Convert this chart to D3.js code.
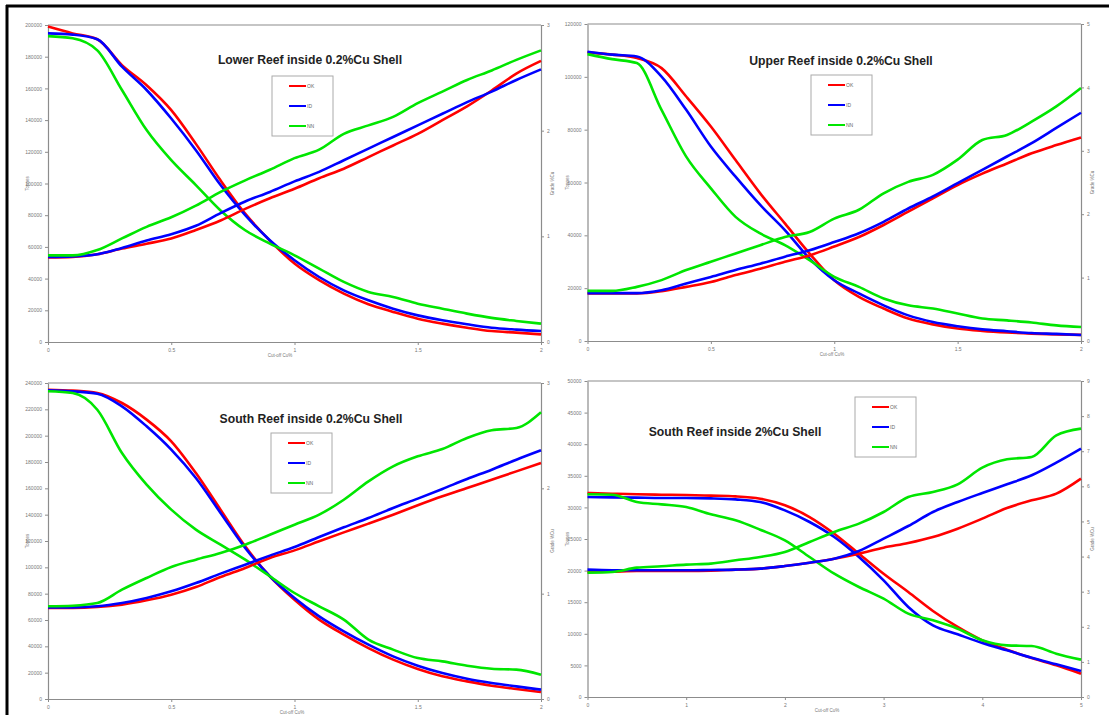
<!DOCTYPE html>
<html><head><meta charset="utf-8">
<script src="https://cdn.jsdelivr.net/npm/d3@7/dist/d3.min.js"></script>
<style>body{margin:0;background:#fff}svg{display:block}</style></head>
<body><svg id="chart" width="1109" height="715"></svg>
<script>
// ---------- DATA ----------
const seriesNames = ["OK", "ID", "NN"];
const seriesColors = ["#ff0000", "#0000ff", "#00e600"];

const cutoff02 = [0,0.1,0.2,0.3,0.4,0.5,0.6,0.7,0.8,0.9,1.0,1.1,1.2,1.3,1.4,1.5,1.6,1.7,1.8,1.9,2.0];
const cutoff2 = [0,0.25,0.5,0.75,1.0,1.25,1.5,1.75,2.0,2.25,2.5,2.75,3.0,3.25,3.5,3.75,4.0,4.25,4.5,4.75,5.0];

// Lower Reef inside 0.2%Cu Shell
const lowerTonnesOK = [199000,194700,191000,174700,162000,146300,125000,102000,81000,64000,49500,39000,30500,23800,19000,14700,11600,9000,6900,5900,4800];
const lowerTonnesID = [194700,193900,191000,173700,159000,141000,121000,99000,80000,64200,51600,41000,32600,26300,21000,16800,13700,11200,9000,7800,6900];
const lowerTonnesNN = [193000,191600,184000,159000,133700,114700,99000,83000,70500,62100,54700,46300,37900,31600,28400,24200,21000,17900,15200,13300,11600];
const lowerGradeOK = [0.80,0.805,0.83,0.884,0.93,0.98,1.06,1.15,1.26,1.36,1.45,1.55,1.64,1.75,1.86,1.97,2.10,2.23,2.38,2.54,2.66];
const lowerGradeID = [0.805,0.81,0.83,0.89,0.96,1.02,1.10,1.22,1.33,1.42,1.52,1.61,1.72,1.83,1.94,2.05,2.16,2.27,2.37,2.48,2.58];
const lowerGradeNN = [0.82,0.82,0.87,0.98,1.09,1.18,1.29,1.42,1.53,1.63,1.74,1.82,1.97,2.05,2.13,2.26,2.37,2.48,2.57,2.67,2.76];

// Upper Reef inside 0.2%Cu Shell
const upperTonnesOK = [109250,108400,107100,103300,92560,81200,68500,55900,44500,33100,23000,16700,12300,8500,6300,4700,3800,3200,2800,2500,2300];
const upperTonnesID = [109500,108400,107700,100100,87500,73600,62200,51500,42000,31200,23000,18000,13500,9700,7200,5600,4400,3700,3000,2700,2300];
const upperTonnesNN = [108600,106700,105200,87500,69800,57800,47000,40700,36300,30600,24300,20500,16100,13500,12300,10400,8500,7800,7000,5900,5300];
const upperGradeOK = [0.75,0.75,0.75,0.785,0.854,0.93,1.04,1.14,1.25,1.35,1.49,1.64,1.83,2.04,2.25,2.46,2.64,2.80,2.96,3.09,3.21];
const upperGradeID = [0.755,0.755,0.755,0.80,0.906,1.01,1.12,1.22,1.33,1.43,1.56,1.70,1.88,2.09,2.28,2.49,2.70,2.91,3.12,3.36,3.60];
const upperGradeNN = [0.79,0.79,0.854,0.96,1.12,1.25,1.38,1.51,1.64,1.72,1.93,2.07,2.33,2.51,2.62,2.86,3.17,3.25,3.46,3.70,3.99];

// South Reef inside 0.2%Cu Shell
const southTonnesOK = [234900,234200,232400,224800,212200,195700,171600,143800,116000,93200,75400,60300,48900,38700,29900,22800,17200,13400,10100,7600,5300];
const southTonnesID = [234400,233700,231900,222300,207100,189400,167800,141300,114700,93200,76700,62800,51400,41300,32400,25300,19700,15400,12200,9600,7100];
const southTonnesNN = [233700,232400,219700,186800,162800,143800,128600,117200,105800,93200,80500,70400,60300,45100,37500,31100,28600,25300,23000,22300,18500];
const southGradeOK = [0.864,0.864,0.873,0.896,0.937,0.99,1.063,1.158,1.244,1.339,1.411,1.497,1.582,1.665,1.75,1.839,1.924,2.003,2.082,2.161,2.241];
const southGradeID = [0.870,0.870,0.880,0.911,0.959,1.022,1.101,1.19,1.275,1.361,1.443,1.538,1.63,1.718,1.813,1.902,1.994,2.089,2.177,2.272,2.361];
const southGradeNN = [0.880,0.886,0.911,1.038,1.149,1.253,1.323,1.386,1.465,1.56,1.655,1.75,1.892,2.066,2.209,2.304,2.373,2.478,2.551,2.573,2.722];

// South Reef inside 2%Cu Shell
const south2TonnesOK = [32280,32170,32070,32010,31960,31860,31750,31380,30330,28480,25840,22680,19510,16610,13610,11080,8970,7490,6170,5010,3690];
const south2TonnesID = [31640,31590,31540,31490,31490,31430,31270,30850,29530,27690,25310,22150,18460,14240,11340,9920,8540,7380,6220,5170,4110];
const south2TonnesNN = [32070,32010,30850,30480,30060,28900,27950,26470,24790,22150,19510,17400,15560,13190,12130,10810,8970,8170,8070,6860,5910];
const south2GradeOK = [3.560,3.570,3.589,3.589,3.589,3.598,3.627,3.655,3.731,3.826,3.940,4.082,4.253,4.386,4.557,4.794,5.079,5.383,5.601,5.791,6.219];
const south2GradeID = [3.627,3.608,3.608,3.608,3.608,3.617,3.627,3.655,3.731,3.826,3.940,4.158,4.510,4.870,5.269,5.554,5.810,6.057,6.314,6.674,7.073];
const south2GradeNN = [3.541,3.560,3.684,3.722,3.769,3.798,3.893,3.988,4.130,4.415,4.700,4.937,5.269,5.696,5.839,6.057,6.532,6.769,6.836,7.45,7.643];

// Axis tick labels
const ticksX02 = [0, 0.5, 1, 1.5, 2];
const ticksX2 = [0, 1, 2, 3, 4, 5];
const ticksLower = [0,20000,40000,60000,80000,100000,120000,140000,160000,180000,200000];
const ticksUpper = [0,20000,40000,60000,80000,100000,120000];
const ticksSouth = [0,20000,40000,60000,80000,100000,120000,140000,160000,180000,200000,220000,240000];
const ticksSouth2 = [0,5000,10000,15000,20000,25000,30000,35000,40000,45000,50000];
const ticksGrade3 = [0,1,2,3];
const ticksGrade5 = [0,1,2,3,4,5];
const ticksGrade9 = [0,1,2,3,4,5,6,7,8,9];

const titles = ["Lower Reef inside 0.2%Cu Shell","Upper Reef inside 0.2%Cu Shell","South Reef inside 0.2%Cu Shell","South Reef inside 2%Cu Shell"];
const xTitle = "Cut-off Cu%";
const yTitle = "Tonnes";
const y2Title = "Grade %Cu";

// ---------- PANELS ----------
const panels = [
  {title: titles[0], x: cutoff02, xt: ticksX02, yt: ticksLower, y2t: ticksGrade3,
   tonnes: [lowerTonnesOK, lowerTonnesID, lowerTonnesNN], grade: [lowerGradeOK, lowerGradeID, lowerGradeNN],
   box: [48, 25, 541, 342], titlePos: [310, 64], legend: [272, 76], xTitleX: 280},
  {title: titles[1], x: cutoff02, xt: ticksX02, yt: ticksUpper, y2t: ticksGrade5,
   tonnes: [upperTonnesOK, upperTonnesID, upperTonnesNN], grade: [upperGradeOK, upperGradeID, upperGradeNN],
   box: [587.5, 24, 1081, 341], titlePos: [841, 65], legend: [811, 75], xTitleX: 832},
  {title: titles[2], x: cutoff02, xt: ticksX02, yt: ticksSouth, y2t: ticksGrade3,
   tonnes: [southTonnesOK, southTonnesID, southTonnesNN], grade: [southGradeOK, southGradeID, southGradeNN],
   box: [48, 383, 541, 699], titlePos: [311, 423], legend: [271, 433], xTitleX: 292},
  {title: titles[3], x: cutoff2, xt: ticksX2, yt: ticksSouth2, y2t: ticksGrade9,
   tonnes: [south2TonnesOK, south2TonnesID, south2TonnesNN], grade: [south2GradeOK, south2GradeID, south2GradeNN],
   box: [587.5, 381, 1081, 697], titlePos: [735, 436], legend: [855, 397], xTitleX: 827}
];

const svg = d3.select("#chart");
svg.append("rect").attr("width",1109).attr("height",715).attr("fill","#fff");

const axisCol = "#8c8c8c", lblCol = "#777", font = "Liberation Sans, Arial, sans-serif";

panels.forEach(p => {
  const [x0, y0, x1, y1] = p.box;
  const x = d3.scaleLinear().domain(d3.extent(p.xt)).range([x0, x1]);
  const y = d3.scaleLinear().domain(d3.extent(p.yt)).range([y1, y0]);
  const y2 = d3.scaleLinear().domain(d3.extent(p.y2t)).range([y1, y0]);
  const g = svg.append("g");

  const styleAxis = (sel) => {
    sel.selectAll("path.domain").attr("stroke", axisCol).attr("stroke-width", 1.2);
    sel.selectAll(".tick line").attr("stroke", axisCol);
    sel.selectAll(".tick text").attr("fill", lblCol).attr("font-size", 5).attr("font-family", font);
  };
  g.append("g").attr("transform", `translate(0,${y1})`)
    .call(d3.axisBottom(x).tickValues(p.xt).tickSize(3).tickSizeOuter(0).tickFormat(d3.format("")))
    .call(styleAxis);
  g.append("g").attr("transform", `translate(${x0},0)`)
    .call(d3.axisLeft(y).tickValues(p.yt).tickSize(3).tickSizeOuter(0).tickFormat(d3.format("d")))
    .call(styleAxis);
  g.append("g").attr("transform", `translate(${x1},0)`)
    .call(d3.axisRight(y2).tickValues(p.y2t).tickSize(3).tickSizeOuter(0).tickFormat(d3.format("d")))
    .call(styleAxis);
  g.append("line").attr("x1", x0).attr("x2", x1).attr("y1", y0).attr("y2", y0)
    .attr("stroke", axisCol).attr("stroke-width", 1.2);

  // axis titles
  g.append("text").attr("x", p.xTitleX).attr("y", y1 + 15).attr("text-anchor", "middle")
    .attr("font-size", 4.5).attr("fill", lblCol).attr("font-family", font).text(xTitle);
  g.append("text").attr("transform", `translate(${x0 - 19},${(y0 + y1) / 2}) rotate(-90)`)
    .attr("text-anchor", "middle").attr("font-size", 4.5).attr("fill", lblCol).attr("font-family", font).text(yTitle);
  g.append("text").attr("transform", `translate(${x1 + 13},${(y0 + y1) / 2}) rotate(-90)`)
    .attr("text-anchor", "middle").attr("font-size", 4.5).attr("fill", lblCol).attr("font-family", font).text(y2Title);

  // lines
  const lineT = d3.line().x((d, i) => x(p.x[i])).y(d => y(d)).curve(d3.curveMonotoneX);
  const lineG = d3.line().x((d, i) => x(p.x[i])).y(d => y2(d)).curve(d3.curveMonotoneX);
  p.tonnes.forEach((s, i) => g.append("path").attr("d", lineT(s)).attr("fill", "none")
    .attr("stroke", seriesColors[i]).attr("stroke-width", 2.6).attr("stroke-linejoin", "round"));
  p.grade.forEach((s, i) => g.append("path").attr("d", lineG(s)).attr("fill", "none")
    .attr("stroke", seriesColors[i]).attr("stroke-width", 2.6).attr("stroke-linejoin", "round"));

  // title
  g.append("text").attr("x", p.titlePos[0]).attr("y", p.titlePos[1]).attr("text-anchor", "middle")
    .attr("font-size", 12.2).attr("font-weight", "bold").attr("fill", "#222").attr("font-family", font).text(p.title);

  // legend
  const [lx, ly] = p.legend;
  g.append("rect").attr("x", lx).attr("y", ly).attr("width", 61).attr("height", 60)
    .attr("fill", "#fff").attr("stroke", "#aaa").attr("stroke-width", 1);
  seriesNames.forEach((n, i) => {
    const yy = ly + 10 + i * 20;
    g.append("line").attr("x1", lx + 17).attr("x2", lx + 34).attr("y1", yy).attr("y2", yy)
      .attr("stroke", seriesColors[i]).attr("stroke-width", 2);
    g.append("text").attr("x", lx + 35).attr("y", yy + 1.8).attr("font-size", 5).attr("fill", "#666")
      .attr("font-family", font).text(n);
  });
});

// outer frame
svg.append("line").attr("x1", 6).attr("x2", 1109).attr("y1", 6).attr("y2", 6).attr("stroke", "#000").attr("stroke-width", 3);
svg.append("line").attr("x1", 7).attr("x2", 7).attr("y1", 5).attr("y2", 715).attr("stroke", "#000").attr("stroke-width", 3);
</script></body></html>
